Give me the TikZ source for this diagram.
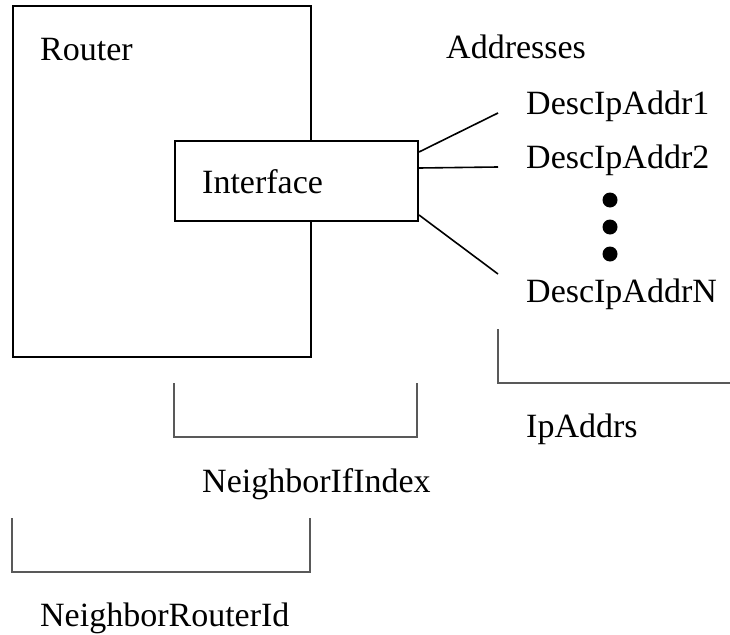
\documentclass[tikz,border=0pt]{standalone}
\usepackage{fontspec}
\setmainfont{Liberation Serif}
\begin{document}
\begin{tikzpicture}[x=1pt,y=1pt,
  lbl/.style={anchor=base west,inner sep=0pt,font=\fontsize{34}{40}\selectfont},
  boxshape/.style={draw,line width=2pt,inner sep=0pt,anchor=north west},
  link/.style={line width=1.6pt},
  brack/.style={line width=1.3pt,draw=black!65},
  dotm/.style={circle,fill=black,inner sep=0pt,minimum size=15pt}]
\useasboundingbox (0,0) rectangle (730,-634);
% boxes
\node[boxshape,minimum width=298pt,minimum height=351pt] (router) at (12,-5) {};
\node[boxshape,fill=white,minimum width=243pt,minimum height=80pt] (iface) at (174,-140) {};
% labels
\node[lbl] (trouter) at (40,-60) {Router};
\node[lbl] (tiface) at (202,-193) {Interface};
\node[lbl] (taddr) at (446,-59) {Addresses};
\node[lbl] (d1) at (526,-114) {DescIpAddr1};
\node[lbl] (d2) at (526,-168) {DescIpAddr2};
\node[lbl] (dn) at (526,-302) {DescIpAddrN};
\node[dotm] (p1) at (610,-200) {};
\node[dotm] (p2) at (610,-227) {};
\node[dotm] (p3) at (610,-254) {};
\node[lbl] (tip) at (526,-437) {IpAddrs};
\node[lbl] (tnif) at (202,-492) {NeighborIfIndex};
\node[lbl] (tnri) at (40,-626) {NeighborRouterId};
% connectors
\coordinate (e1) at (498,-113);
\coordinate (e2) at (498,-167);
\coordinate (e3) at (498,-274);
\draw[link] ([yshift=29pt]iface.east) -- (e1);
\draw[link] ([yshift=13pt]iface.east) -- (e2);
\draw[link] ([yshift=-34pt]iface.east) -- (e3);
% brackets
\coordinate (ipa) at (498,-329);
\coordinate (ipb) at (498,-383);
\coordinate (ipc) at (730,-383);
\draw[brack] (ipa) -- (ipb) -- (ipc);
\coordinate (nia) at (174,-383);
\coordinate (nib) at (174,-437);
\coordinate (nic) at (417,-437);
\coordinate (nid) at (417,-383);
\draw[brack] (nia) -- (nib) -- (nic) -- (nid);
\coordinate (nra) at (12,-518);
\coordinate (nrb) at (12,-572);
\coordinate (nrc) at (310,-572);
\coordinate (nrd) at (310,-518);
\draw[brack] (nra) -- (nrb) -- (nrc) -- (nrd);
\end{tikzpicture}
\end{document}
